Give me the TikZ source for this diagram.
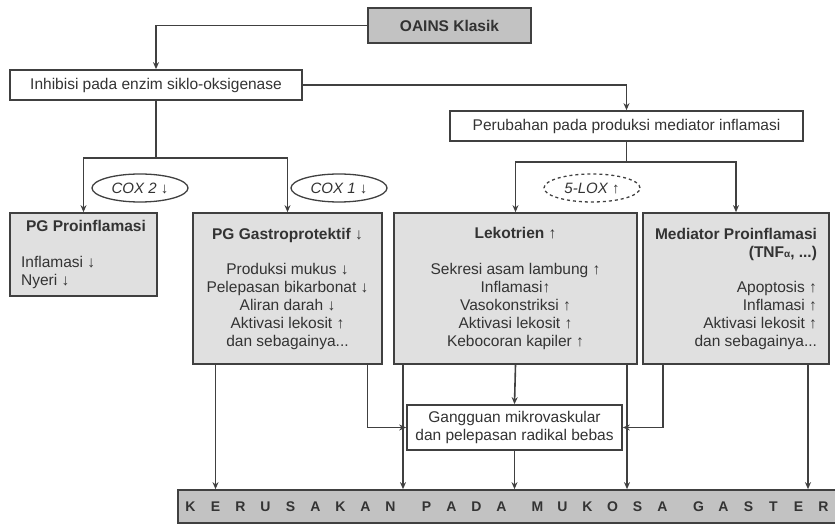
\documentclass[tikz,border=0pt]{standalone}
\usepackage{fontspec}
\setmainfont{Liberation Sans}
\usetikzlibrary{positioning,calc,shapes.geometric,arrows.meta}
\makeatletter
\newcommand\spreadcaps[1]{\@tfor\capchar:=#1\do{\makebox[25pt]{\capchar}}}
\makeatother
\newcommand\wordgap{\hspace{11pt}}

\begin{document}
\begin{tikzpicture}[
    x=1pt, y=-1pt,
    every node/.style={font=\fontsize{15.5}{18}\selectfont, text=black!80},
    box/.style={rectangle, draw=black!75, line width=1.7pt, fill=black!12, inner sep=0pt},
    plainbox/.style={box, fill=white},
    darkbox/.style={box, fill=black!24},
    oval/.style={ellipse, draw=black!75, line width=1.3pt, minimum width=96pt, minimum height=28pt, inner sep=0pt, font=\itshape\fontsize{15}{18}\selectfont},
    line/.style={draw=black!75, line width=1.6pt},
    arrow/.style={line, -{Stealth[length=7pt,width=6pt]}},
]
\useasboundingbox (0,0) rectangle (835,526);

% top row
\node[darkbox, minimum width=163pt, minimum height=35pt, font=\bfseries\fontsize{15.5}{18}\selectfont] (oains) at (449.5,25.5) {OAINS Klasik};
\node[plainbox, minimum width=292pt, minimum height=30pt] (inhib) at (156,85) {Inhibisi pada enzim siklo-oksigenase};
\node[plainbox, minimum width=353pt, minimum height=30pt] (perub) at (626.5,126) {Perubahan pada produksi mediator inflamasi};

% enzymes
\node[oval] (cox2) at (140,188) {COX 2 ↓};
\node[oval] (cox1) at (339,188) {COX 1 ↓};
\node[oval, dashed] (lox) at (592,188) {5-LOX ↑};

% effect boxes
\node[box, minimum width=147pt, minimum height=83pt, align=left] (pgpro) at (83.5,254.5)
    {\hspace{5pt}\textbf{PG Proinflamasi}\\[18pt]Inflamasi ↓\\Nyeri ↓};
\node[box, minimum width=189pt, minimum height=151pt, align=center] (gastro) at (287.5,288.5)
    {\textbf{PG Gastroprotektif ↓}\\[17pt]Produksi mukus ↓\\Pelepasan bikarbonat ↓\\Aliran darah ↓\\Aktivasi lekosit ↑\\dan sebagainya...};
\node[box, minimum width=243pt, minimum height=151pt, align=center] (lekot) at (515.5,288.5)
    {\textbf{Lekotrien ↑}\\[18pt]Sekresi asam lambung ↑\\Inflamasi↑\\Vasokonstriksi ↑\\Aktivasi lekosit ↑\\Kebocoran kapiler ↑};
\node[box, minimum width=186pt, minimum height=151pt, align=right] (medi) at (736,288.5)
    {\textbf{Mediator Proinflamasi}\\\textbf{(TNF{\fontsize{10}{10}\selectfont α}, ...)}\\[17pt]Apoptosis ↑\\Inflamasi ↑\\Aktivasi lekosit ↑\\dan sebagainya...};

\node[plainbox, minimum width=215pt, minimum height=45pt, align=center] (gangg) at (514.5,427.5)
    {Gangguan mikrovaskular\\dan pelepasan radikal bebas};
\node[darkbox, minimum width=652pt, minimum height=33pt, font=\bfseries\fontsize{14}{16}\selectfont] (bar) at (507,506.5)
    {\spreadcaps{KERUSAKAN}\wordgap\spreadcaps{PADA}\wordgap\spreadcaps{MUKOSA}\wordgap\spreadcaps{GASTER}};

% connectors
\coordinate (coxrow) at (0,158);
\coordinate (loxrow) at (0,162);
\coordinate (coxfork) at (inhib.south |- coxrow);
\coordinate (loxfork) at (perub.south |- loxrow);

\draw[arrow] (oains.west) -| (inhib.north);
\draw[arrow] (inhib.east) -| (perub.north);
\draw[line] (inhib.south) -- (coxfork);
\draw[arrow] (coxfork) -| (pgpro.north);
\draw[arrow] (coxfork) -| (gastro.north);
\draw[line] (perub.south) -- (loxfork);
\draw[arrow] (loxfork) -| (lekot.north);
\draw[arrow] (loxfork) -| (medi.north);

\draw[arrow] ([xshift=-72pt]gastro.south) -- ([xshift=-72pt]gastro.south |- bar.north);
\draw[arrow] ([xshift=80pt]gastro.south) |- (gangg.west);
\draw[arrow] ([xshift=-112.5pt]lekot.south) -- ([xshift=-112.5pt]lekot.south |- bar.north);
\draw[arrow] (lekot.south) -- (gangg.north);
\draw[arrow] (gangg.south) -- (gangg.south |- bar.north);
\draw[arrow] ([xshift=111.5pt]lekot.south) -- ([xshift=111.5pt]lekot.south |- bar.north);
\draw[arrow] ([xshift=-73pt]medi.south) |- (gangg.east);
\draw[arrow] ([xshift=72pt]medi.south) -- ([xshift=72pt]medi.south |- bar.north);
\end{tikzpicture}
\end{document}
